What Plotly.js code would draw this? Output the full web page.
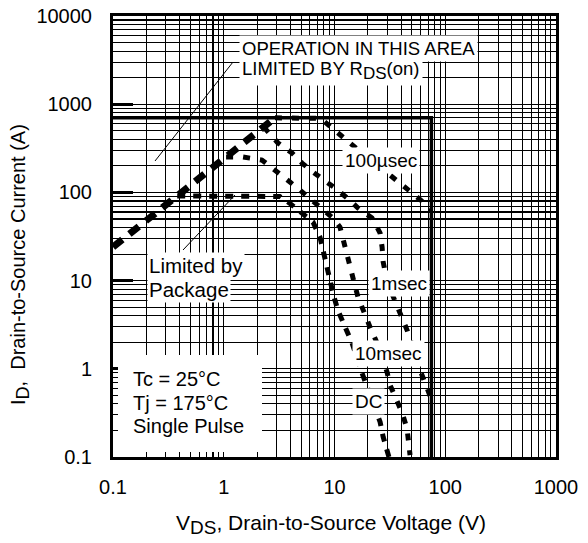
<!DOCTYPE html>
<html>
<head>
<meta charset="utf-8">
<script src="https://cdn.plot.ly/plotly-3.0.1.min.js"></script>
<style>html,body{margin:0;padding:0;background:#fff;}#chart{width:588px;height:543px;}</style>
</head>
<body>
<div id="chart"></div>
<script>
// ---------- data ----------
const xTickVals = [0.1, 1, 10, 100, 1000];
const xTickText = ['0.1', '1', '10', '100', '1000'];
const yTickVals = [0.1, 1, 10, 100, 1000, 10000];
const yTickText = ['0.1', '1', '10', '100', '1000', '10000'];

// RDS(on) limit line
const rdsV = [0.1, 2.9];
const rdsI = [24, 700];

// 100 µs
const us100V = [2.9, 5, 7.5, 10.5, 13.3, 20, 31.7, 39, 48, 60, 70, 75];
const us100I = [700, 700, 690, 484, 372, 245, 157, 128, 106, 82, 68, 63];

// 1 ms
const ms1V = [2.3, 3.09, 4.13, 5.09, 6.4, 8.2, 10.1, 13.0, 16.3, 21.8, 25.8, 26.9, 27.5, 30, 35.2, 40.7, 45.2, 59.2, 65.6, 75];
const ms1I = [550, 363, 280, 215, 170, 138, 112, 86.5, 66.6, 51.3, 34.7, 24, 16.3, 9.5, 5.7, 3.86, 2.75, 0.97, 0.69, 0.45];

// 10 ms
const ms10V = [1.05, 1.49, 2.21, 3.09, 3.96, 4.88, 6.26, 7.87, 9.7, 11.2, 12.4, 13.2, 14.7, 16.3, 18.1, 20.9, 24.7, 29.8, 31.8, 36.6, 40.7, 45.2, 48.1];
const ms10I = [252, 252, 233, 170, 131, 106, 82, 63, 51, 40.5, 24, 16.3, 10.7, 6.5, 4.6, 2.98, 1.86, 0.92, 0.65, 0.44, 0.32, 0.21, 0.105];

// DC (package limited)
const dcV = [0.38, 1, 2, 3.2, 3.96, 4.88, 6.4, 7.4, 8.5, 9.7, 10.7, 12.4, 14.4, 17.7, 23.3, 25.8, 27.5, 30.4, 31];
const dcI = [91, 91, 91, 90, 75, 60, 46, 31, 14.3, 7.2, 4.64, 2.98, 1.96, 0.9, 0.36, 0.25, 0.169, 0.111, 0.1];

// Max current / max voltage boundary
const limV = [0.1, 75, 75];
const limI = [700, 700, 0.1];

// ---------- helpers ----------
const FONT = 'Liberation Sans, Arial, Helvetica, sans-serif';
const L = 113, R = 556, T = 16, B = 457;
const px = x => (x - L) / (R - L);
const py = y => (B - y) / (B - T);
function minorVals(lo, hi) {
  const out = [];
  for (let e = lo; e < hi; e++) for (let m = 2; m <= 9; m++) out.push(m * Math.pow(10, e));
  return out;
}

const dashedCurve = (x, y, w, dash) => ({
  x, y, type: 'scatter', mode: 'lines', hoverinfo: 'skip',
  line: {color: '#000', width: w, dash: dash}
});

const traces = [
  {x: limV, y: limI, type: 'scatter', mode: 'lines', line: {color: '#000', width: 3.5}, hoverinfo: 'skip'},
  dashedCurve(rdsV, rdsI, 7, '12px,9px'),
  dashedCurve(us100V, us100I, 5, '7px,10px'),
  dashedCurve(ms1V, ms1I, 5, '7px,10px'),
  dashedCurve(ms10V, ms10I, 5, '7px,10px'),
  dashedCurve(dcV, dcI, 5, '8px,8px')
];

const ann = (text, x, y, opts) => Object.assign({
  text, xref: 'paper', yref: 'paper', x: px(x), y: py(y),
  showarrow: false, font: {family: FONT, size: 19, color: '#000'},
  xanchor: 'center', yanchor: 'middle'
}, opts || {});

const annotations = [
  ann('OPERATION IN THIS AREA', 239, 48, {xanchor: 'left', bgcolor: '#fff', borderpad: 2, font: {family: FONT, size: 18.5, color: '#000'}}),
  ann('LIMITED BY R<sub><span style="font-size:17px">DS</span></sub>(on)', 239, 71, {xanchor: 'left', bgcolor: '#fff', borderpad: 2, font: {family: FONT, size: 18.5, color: '#000'}}),
  ann('100µsec', 381, 161, {bgcolor: '#fff', borderpad: 2}),
  ann('1msec', 399, 284, {bgcolor: '#fff', borderpad: 2}),
  ann('10msec', 388, 353, {bgcolor: '#fff', borderpad: 2}),
  ann('DC', 368, 401, {bgcolor: '#fff', borderpad: 2}),
  ann('Limited by', 147, 265, {xanchor: 'left', bgcolor: '#fff', borderpad: 1, font: {family: FONT, size: 20.5, color: '#000'}}),
  ann('Package', 147, 289, {xanchor: 'left', bgcolor: '#fff', borderpad: 1, font: {family: FONT, size: 20.5, color: '#000'}}),
  ann('Tc = 25°C', 131, 379, {xanchor: 'left', font: {family: FONT, size: 20, color: '#000'}}),
  ann('Tj = 175°C', 131, 403, {xanchor: 'left', font: {family: FONT, size: 20, color: '#000'}}),
  ann('Single Pulse', 131, 426, {xanchor: 'left', font: {family: FONT, size: 20, color: '#000'}}),
  ann('V<sub><span style="font-size:19px">DS</span></sub>, Drain-to-Source Voltage (V)', 331, 524, {font: {family: FONT, size: 21, color: '#000'}}),
  ann('I<sub><span style="font-size:18px">D</span></sub>,  Drain-to-Source Current (A)', 20, 265, {textangle: -90, font: {family: FONT, size: 20, color: '#000'}})
];

const shapes = [
  {type: 'rect', xref: 'paper', yref: 'paper', x0: px(118), x1: px(262), y0: py(355), y1: py(452),
   fillcolor: '#fff', line: {width: 0}, layer: 'above'},
  {type: 'line', xref: 'paper', yref: 'paper', x0: px(233), y0: py(62), x1: px(155), y1: py(161),
   line: {color: '#000', width: 1}, layer: 'above'},
  {type: 'line', xref: 'paper', yref: 'paper', x0: px(235), y0: py(195), x1: px(183), y1: py(250),
   line: {color: '#000', width: 1}, layer: 'above'}
];

const axisCommon = {
  type: 'log', showgrid: true, gridcolor: '#000', gridwidth: 1.3, zeroline: false,
  showline: true, linecolor: '#000', linewidth: 3, mirror: true,
  tickmode: 'array', tickfont: {family: FONT, size: 20, color: '#000'}
};

const layout = {
  width: 588, height: 543,
  margin: {l: L, r: 588 - R, t: T, b: 543 - B},
  paper_bgcolor: '#fff', plot_bgcolor: '#fff',
  showlegend: false,
  xaxis: Object.assign({}, axisCommon, {
    range: [-1, 3], tickvals: xTickVals, ticktext: xTickText, ticks: '',
    ticklabelstandoff: 10,
    minor: {tickmode: 'array', tickvals: minorVals(-1, 3), showgrid: true, gridcolor: '#000', gridwidth: 1.1, ticks: ''}
  }),
  yaxis: Object.assign({}, axisCommon, {
    range: [-1, 4], tickvals: yTickVals, ticktext: yTickText,
    ticks: 'inside', ticklen: 20, tickwidth: 3, tickcolor: '#000',
    ticklabelstandoff: 14,
    minor: {tickmode: 'array', tickvals: minorVals(-1, 4), showgrid: true, gridcolor: '#000', gridwidth: 1.1, ticks: ''}
  }),
  annotations, shapes
};

Plotly.newPlot('chart', traces, layout, {staticPlot: true, displayModeBar: false});
</script>
</body>
</html>
